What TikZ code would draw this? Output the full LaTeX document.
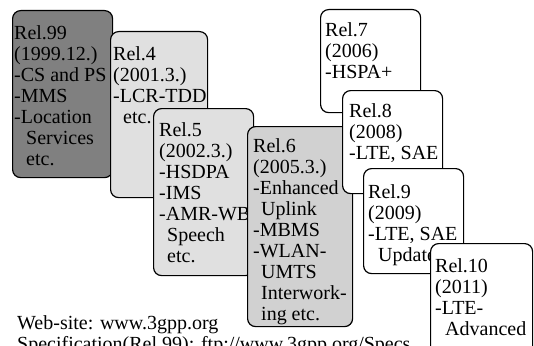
\documentclass[tikz,border=0pt]{standalone}
\usepackage{fontspec}
\setmainfont{Liberation Serif}
\begin{document}
\begin{tikzpicture}[x=1pt,y=1pt,
  relbox/.style={draw=black, line width=1.2pt, rounded corners=8pt, anchor=north west, inner sep=0pt},
  darkbox/.style={relbox, fill=black!50},
  lightbox/.style={relbox, fill=black!12},
  midbox/.style={relbox, fill=black!18},
  plainbox/.style={relbox, fill=white},
  reltext/.style={anchor=north west, align=left, inner sep=0pt, font=\fontsize{20}{21}\selectfont},
  foot/.style={anchor=base west, inner sep=0pt, font=\fontsize{20}{21}\selectfont}]
\useasboundingbox (0,0) rectangle (534,-345);
\clip (0,0) rectangle (534,-345);
\node[darkbox, minimum width=100pt, minimum height=167pt] (r99) at (12,-10) {};
\node[reltext] (t99) at ([xshift=2pt,yshift=-15pt]r99.north west)
  {Rel.99\\(1999.12.)\\-CS and PS\\-MMS\\-Location\\\hspace*{0.6em}Services\\\hspace*{0.6em}etc.};
\node[lightbox, minimum width=97pt, minimum height=166pt] (r4) at (110,-31) {};
\node[reltext] (t4) at ([xshift=3pt,yshift=-15pt]r4.north west)
  {Rel.4\\(2001.3.)\\-LCR-TDD\\\hspace*{0.5em}etc.};
\node[lightbox, minimum width=100pt, minimum height=167pt] (r5) at (153,-108) {};
\node[reltext] (t5) at ([xshift=6pt,yshift=-14pt]r5.north west)
  {Rel.5\\(2002.3.)\\-HSDPA\\-IMS\\-AMR-WB\\\hspace*{0.4em}Speech\\\hspace*{0.4em}etc.};
\node[midbox, minimum width=105pt, minimum height=200pt] (r6) at (247,-126) {};
\node[reltext] (t6) at ([xshift=6pt,yshift=-12pt]r6.north west)
  {Rel.6\\(2005.3.)\\-Enhanced\\\hspace*{0.4em}Uplink\\-MBMS\\-WLAN-\\\hspace*{0.4em}UMTS\\\hspace*{0.4em}Interwork-\\\hspace*{0.4em}ing etc.};
\node[plainbox, minimum width=100pt, minimum height=103pt] (r7) at (320,-9) {};
\node[reltext] (t7) at ([xshift=5pt,yshift=-13pt]r7.north west)
  {Rel.7\\(2006)\\-HSPA+};
\node[plainbox, minimum width=100pt, minimum height=103pt] (r8) at (342,-90) {};
\node[reltext] (t8) at ([xshift=7pt,yshift=-13pt]r8.north west)
  {Rel.8\\(2008)\\-LTE, SAE};
\node[plainbox, minimum width=100pt, minimum height=105pt] (r9) at (363,-168) {};
\node[reltext] (t9) at ([xshift=5pt,yshift=-16pt]r9.north west)
  {Rel.9\\(2009)\\-LTE, SAE\\\hspace*{0.5em}Update};
\node[plainbox, minimum width=102pt, minimum height=112pt] (r10) at (430,-243) {};
\node[reltext] (t10) at ([xshift=5pt,yshift=-15pt]r10.north west)
  {Rel.10\\(2011)\\-LTE-\\\hspace*{0.5em}Advanced};
\node[foot] (web) at (17,-329) {Web-site: www.3gpp.org};
\node[foot] (spec) at (17,-350) {Specification(Rel.99): ftp://www.3gpp.org/Specs};
\end{tikzpicture}
\end{document}
